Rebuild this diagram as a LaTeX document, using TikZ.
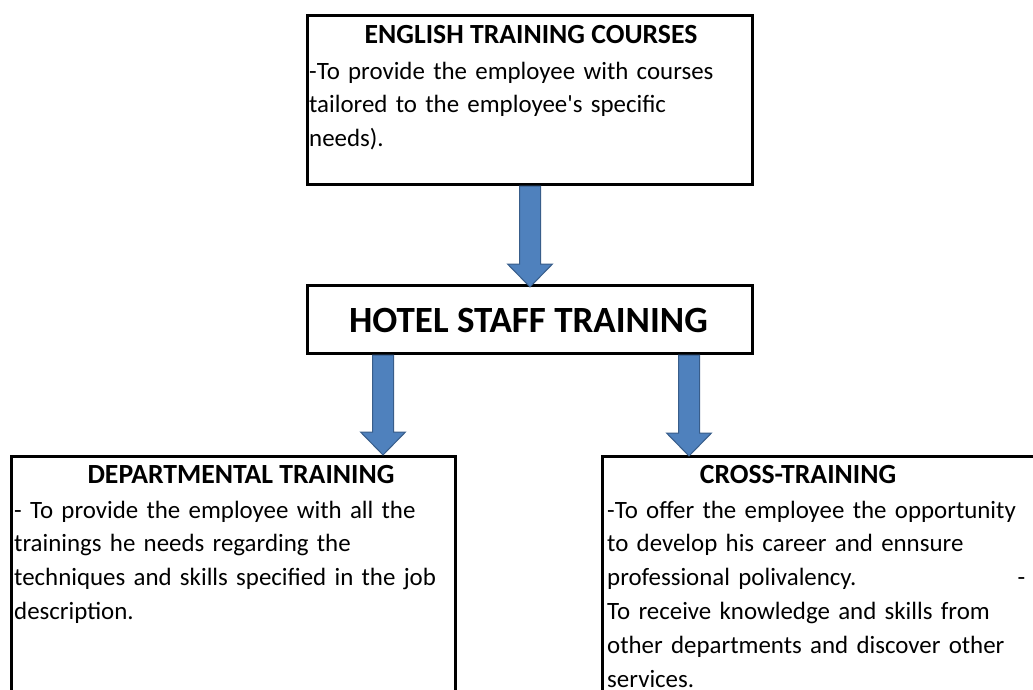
\documentclass[tikz,border=0pt]{standalone}
\usepackage{fontspec}
\setmainfont{Carlito}
\usetikzlibrary{calc}
\definecolor{arrfill}{HTML}{4F81BD}
\definecolor{arrline}{HTML}{385D8A}
\tikzset{
  box/.style={draw=black, line width=3pt, fill=white, rectangle, inner sep=0pt, anchor=north west},
  title/.style={font=\fontsize{27.7}{32}\selectfont\bfseries, inner sep=0pt, anchor=base},
  body/.style={font=\fontsize{24.9}{33.8}\selectfont, inner sep=0pt, anchor=base west, align=left, text width=440pt},
  blockarrow/.style={fill=arrfill, draw=arrline, line width=1pt, line join=miter}
}
\newcommand{\blockarr}[2]{%
  \draw[blockarrow] let \p1=(#1), \p2=(#2) in
    (\x1-10.5pt,\y1) -- (\x1+10.5pt,\y1) -- (\x1+10.5pt,\y2+23pt) --
    (\x1+22.5pt,\y2+23pt) -- (\x1,\y2) -- (\x1-22.5pt,\y2+23pt) --
    (\x1-10.5pt,\y2+23pt) -- cycle;}
\begin{document}
\begin{tikzpicture}[x=1pt,y=-1pt]
\clip (0,0) rectangle (1033,689);
\fill[white] (0,0) rectangle (1033,689);
% boxes
\node[box, minimum width=445pt, minimum height=169pt] (eng) at (306,14) {};
\node[box, minimum width=445pt, minimum height=68pt] (hotel) at (306,284) {};
\node[box, minimum width=444pt, minimum height=260pt] (dept) at (10,455) {};
\node[box, minimum width=460pt, minimum height=260pt] (cross) at (601,455) {};
% texts
\node[title] (engt) at (531,43) {ENGLISH TRAINING COURSES};
\node[body] (engb) at (309,79) {-To provide the employee with courses\\tailored to the employee\textquotesingle s specific\\needs).};
\node[font=\fontsize{37}{42}\selectfont\bfseries, inner sep=0pt, anchor=base] (hotelt) at (528.5,332) {HOTEL STAFF TRAINING};
\node[title] (deptt) at (241,483) {DEPARTMENTAL TRAINING};
\node[body] (deptb) at (14,518) {- To provide the employee with all the\\trainings he needs regarding the\\techniques and skills specified in the job\\description.};
\node[title] (crosst) at (798,483) {CROSS-TRAINING};
\node[body] (crossb) at (607,518) {-To offer the employee the opportunity\\to develop his career and ennsure\\\makebox[418pt][l]{professional polivalency.\hfill -}\\To receive knowledge and skills from\\other departments and discover other\\services.};
% arrows
\coordinate (a1s) at (eng.south);
\coordinate (a1e) at ($(hotel.north)+(0,3)$);
\coordinate (a2s) at (383,0 |- hotel.south);
\coordinate (a2e) at (383,0 |- dept.north);
\coordinate (a3s) at (689,0 |- hotel.south);
\coordinate (a3e) at ($(689,0 |- cross.north)+(0,1)$);
\blockarr{a1s}{a1e}
\blockarr{a2s}{a2e}
\blockarr{a3s}{a3e}
\end{tikzpicture}
\end{document}
